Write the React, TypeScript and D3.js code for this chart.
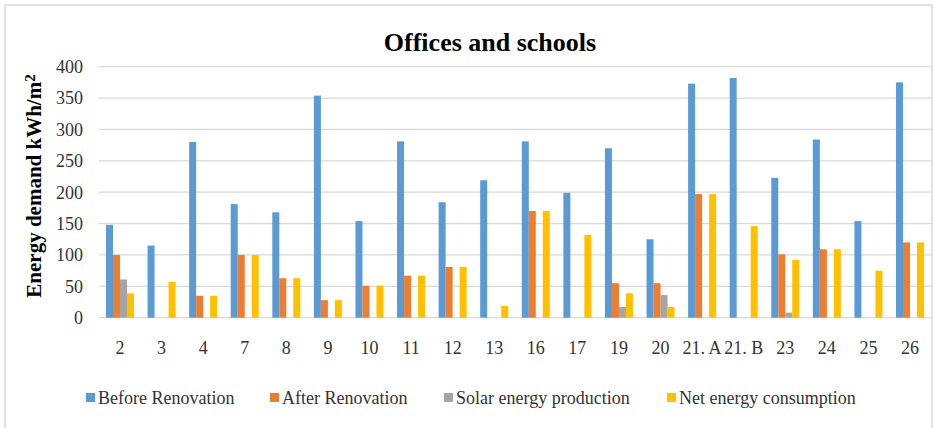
import React from "react";
import * as d3 from "d3";

const categories = ["2", "3", "4", "7", "8", "9", "10", "11", "12", "13", "16", "17", "19", "20", "21. A", "21. B", "23", "24", "25", "26"];
const beforeRenovation = [148, 115, 280, 181, 168, 354, 154, 281, 184, 219, 281, 199, 270, 125, 373, 382, 223, 284, 154, 375];
const afterRenovation = [100, 0, 35, 100, 63, 28, 51, 67, 81, 0, 170, 0, 55, 55, 197, 0, 101, 109, 0, 120];
const solarProduction = [61, 0, 0, 0, 0, 0, 0, 0, 0, 0, 0, 0, 17, 36, 0, 0, 8, 0, 0, 0];
const netConsumption = [39, 57, 35, 100, 63, 28, 51, 67, 81, 19, 170, 132, 39, 17, 197, 146, 92, 109, 75, 120];
const seriesNames = ["Before Renovation", "After Renovation", "Solar energy production", "Net energy consumption"];
const seriesColors = ["#5B9BD5", "#ED7D31", "#A5A5A5", "#FFC000"];
const yTicks = [0, 50, 100, 150, 200, 250, 300, 350, 400];
const legendX = [86, 270, 444, 667];

const FONT = "'Liberation Serif', 'Times New Roman', serif";

export default function App() {
  const W = 934, H = 428;
  const seriesValues = [beforeRenovation, afterRenovation, solarProduction, netConsumption];
  const x = d3.scaleBand<string>().domain(categories).range([99.2, 930.8]).padding(0);
  const groupW = 28;
  const xs = d3.scaleBand<number>().domain([0, 1, 2, 3]).range([0, groupW]).padding(0);
  const y = d3.scaleLinear().domain([0, 400]).range([317.7, 66.7]);

  return (
    <svg width={W} height={H} style={{ position: "absolute", left: 0, top: 0, background: "#fff" }}>
      <rect x={0} y={0} width={W} height={H} fill="#fff" />
      <rect x={5} y={5} width={927} height={440} fill="none" stroke="#d9d9d9" strokeWidth={1.5} />
      <text x={490} y={51} textAnchor="middle" fontFamily={FONT} fontWeight="bold" fontSize={26} fill="#000">
        Offices and schools
      </text>
      {yTicks.map((t) => (
        <g key={t}>
          <line x1={99} x2={931} y1={y(t)} y2={y(t)} stroke="#d9d9d9" strokeWidth={1.3} />
          <text x={83} y={y(t)} dy="0.35em" textAnchor="end" fontFamily={FONT} fontSize={18} fill="#333">
            {t}
          </text>
        </g>
      ))}
      {categories.map((c, i) => {
        const gx = (x(c) as number) + (x.bandwidth() - groupW) / 2;
        return (
          <g key={c}>
            {seriesValues.map((vals, s) =>
              vals[i] > 0 ? (
                <rect
                  key={s}
                  x={gx + (xs(s) as number)}
                  y={y(vals[i])}
                  width={xs.bandwidth()}
                  height={y(0) - y(vals[i])}
                  fill={seriesColors[s]}
                />
              ) : null
            )}
            <text
              x={(x(c) as number) + x.bandwidth() / 2}
              y={348}
              dy="0.35em"
              textAnchor="middle"
              fontFamily={FONT}
              fontSize={18}
              fill="#333"
            >
              {c}
            </text>
          </g>
        );
      })}
      <text
        transform={`translate(34,186) rotate(-90)`}
        textAnchor="middle"
        dy="0.35em"
        fontFamily={FONT}
        fontWeight="bold"
        fontSize={21}
        fill="#000"
      >
        Energy demand kWh/m<tspan dy="-0.45em" fontSize={15}>2</tspan>
      </text>
      {seriesNames.map((n, s) => (
        <g key={n}>
          <rect x={legendX[s]} y={393} width={9} height={9} fill={seriesColors[s]} />
          <text x={legendX[s] + 12} y={397.5} dy="0.35em" fontFamily={FONT} fontSize={18} fill="#333">
            {n}
          </text>
        </g>
      ))}
    </svg>
  );
}
